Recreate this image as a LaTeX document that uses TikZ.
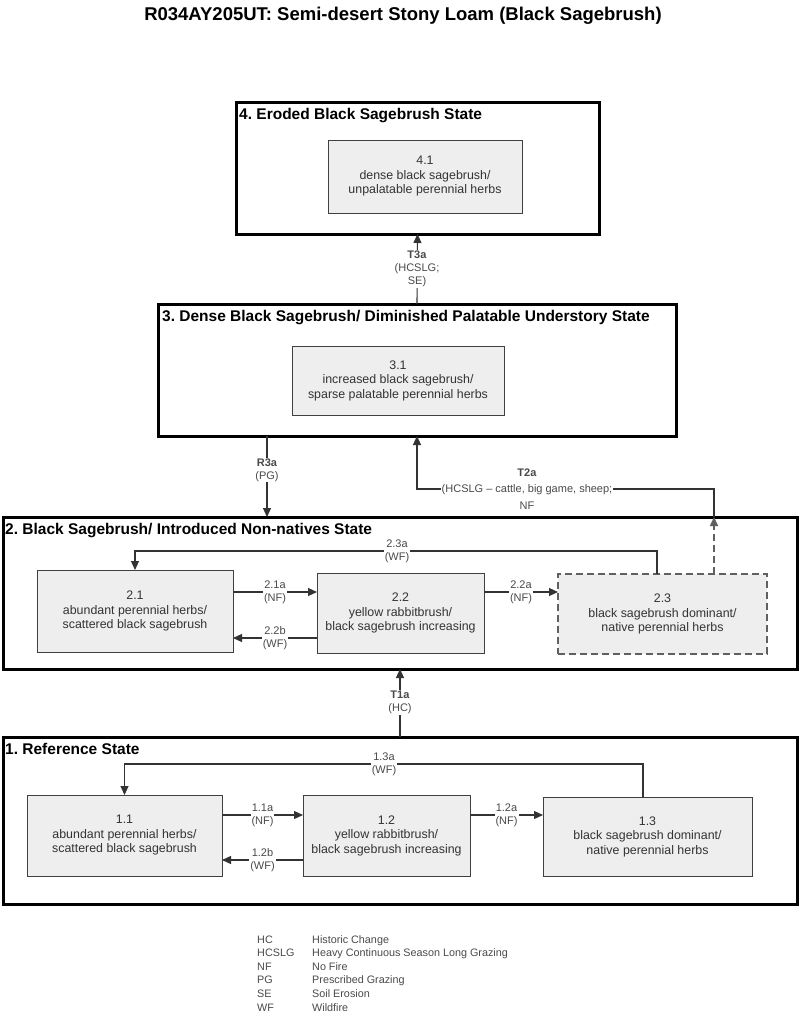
\documentclass[tikz,border=0pt]{standalone}
\usepackage{fontspec}
\setmainfont{Liberation Sans}
\usetikzlibrary{arrows.meta}
\definecolor{boxfill}{HTML}{EEEEEE}
\definecolor{boxline}{HTML}{404040}
\definecolor{txt}{HTML}{333333}
\definecolor{lbltxt}{HTML}{4A4A4A}
\definecolor{conncol}{HTML}{333333}
\definecolor{dashcol}{HTML}{606060}
\frenchspacing
\begin{document}
\begin{tikzpicture}[x=1pt,y=-1pt,
  statebox/.style={draw=black,line width=3pt,inner sep=0pt,outer sep=0pt},
  phasebox/.style={draw=boxline,line width=1pt,fill=boxfill,inner sep=0pt,outer sep=0pt,align=center,text=txt,font=\fontsize{12.4}{14.5}\selectfont},
  dashbox/.style={phasebox,draw=dashcol,line width=1.6pt,dash pattern=on 7pt off 4pt},
  statetitle/.style={anchor=base west,inner sep=0pt,font=\bfseries\fontsize{15.5}{18}\selectfont},
  conn/.style={draw=conncol,line width=1.1pt,-{Triangle[length=9pt,width=8pt]}},
  dashconn/.style={draw=dashcol,line width=1.6pt,dash pattern=on 7pt off 4pt,-{Triangle[length=9pt,width=8pt]}},
  lbl/.style={fill=white,inner sep=1pt,align=center,text=lbltxt,font=\fontsize{11}{13}\selectfont},
  legendtext/.style={anchor=base west,inner sep=0pt,text=lbltxt,font=\fontsize{10.8}{13.6}\selectfont}]
\fill[white] (0,0) rectangle (800,1012);
\useasboundingbox (0,0) rectangle (800,1012);

% title
\node[anchor=base,inner sep=0pt,font=\bfseries\fontsize{18.5}{22}\selectfont] (title) at (403,20) {R034AY205UT: Semi-desert Stony Loam (Black Sagebrush)};

% state boxes
\node[statebox,minimum width=363pt,minimum height=132pt] (s4) at (417.5,168) {};
\node[statebox,minimum width=518pt,minimum height=132pt] (s3) at (417,370) {};
\node[statebox,minimum width=794pt,minimum height=152pt] (s2) at (400,593) {};
\node[statebox,minimum width=794pt,minimum height=167pt] (s1) at (400,820.5) {};

\node[statetitle] (s4t) at (239,119) {4. Eroded Black Sagebrush State};
\node[statetitle] (s3t) at (162,321) {3. Dense Black Sagebrush/ Diminished Palatable Understory State};
\node[statetitle] (s2t) at (5,534) {2. Black Sagebrush/ Introduced Non-natives State};
\node[statetitle] (s1t) at (5,754) {1. Reference State};

% community phase boxes
\node[phasebox,minimum width=194pt,minimum height=73pt] (b41) at (425,176.5) {4.1\\dense black sagebrush/\\unpalatable perennial herbs};
\node[phasebox,minimum width=212pt,minimum height=69pt] (b31) at (398,380.5) {3.1\\increased black sagebrush/\\sparse palatable perennial herbs};
\node[phasebox,minimum width=196pt,minimum height=82pt] (b21) at (135,611) {2.1\\abundant perennial herbs/\\scattered black sagebrush};
\node[phasebox,minimum width=167pt,minimum height=80pt] (b22) at (400.5,613) {2.2\\yellow rabbitbrush/\\black sagebrush increasing};
\node[dashbox,minimum width=209pt,minimum height=80pt] (b23) at (662.5,614) {2.3\\black sagebrush dominant/\\native perennial herbs};
\node[phasebox,minimum width=195pt,minimum height=81pt] (b11) at (124.5,835.5) {1.1\\abundant perennial herbs/\\scattered black sagebrush};
\node[phasebox,minimum width=167pt,minimum height=81pt] (b12) at (386.5,835.5) {1.2\\yellow rabbitbrush/\\black sagebrush increasing};
\node[phasebox,minimum width=209pt,minimum height=79pt] (b13) at (647.5,836.5) {1.3\\black sagebrush dominant/\\native perennial herbs};

% helper coordinates
\coordinate (cr3a) at (267,470);
\coordinate (ct2b) at (714,517);
\coordinate (ct2c) at (417,489);
\coordinate (c23a) at (657,551);
\coordinate (c13a) at (643,764);
\coordinate (y2a) at (0,592);
\coordinate (y2b) at (0,638);
\coordinate (y1a) at (0,815);
\coordinate (y1b) at (0,860);

% transitions between states
\draw[conn] (s3.north) -- (s4.south);
\node[lbl] (lt3a) at (417,269) {\textbf{T3a}\\(HCSLG;\\SE)};

\draw[conn] (s3.south -| cr3a) -- (s2.north -| cr3a);
\node[lbl] (lr3a) at (cr3a) {\textbf{R3a}\\(PG)};

\draw[dashconn] (b23.north -| ct2b) -- (ct2b);
\draw[conn] (ct2b) |- (ct2c) -- (s3.south -| ct2c);
\node[lbl,font=\fontsize{11}{16.5}\selectfont] (lt2a) at (527,489) {\textbf{T2a}\\(HCSLG – cattle, big game, sheep;\\NF};

\draw[conn] (s1.north) -- (s2.south);
\node[lbl] (lt1a) at (400,702.5) {\textbf{T1a}\\(HC)};

% state 2 pathways
\draw[conn] (b23.north -| c23a) -- (c23a) -| (b21.north);
\node[lbl] (l23a) at (397,551) {2.3a\\(WF)};
\draw[conn] (b21.east |- y2a) -- (b22.west |- y2a) node[lbl,midway] (l21a) {2.1a\\(NF)};
\draw[conn] (b22.west |- y2b) -- (b21.east |- y2b) node[lbl,midway] (l22b) {2.2b\\(WF)};
\draw[conn] (b22.east |- y2a) -- (b23.west |- y2a) node[lbl,midway] (l22a) {2.2a\\(NF)};

% state 1 pathways
\draw[conn] (b13.north -| c13a) -- (c13a) -| (b11.north);
\node[lbl] (l13a) at (384,764) {1.3a\\(WF)};
\draw[conn] (b11.east |- y1a) -- (b12.west |- y1a) node[lbl,midway] (l11a) {1.1a\\(NF)};
\draw[conn] (b12.west |- y1b) -- (b11.east |- y1b) node[lbl,midway] (l12b) {1.2b\\(WF)};
\draw[conn] (b12.east |- y1a) -- (b13.west |- y1a) node[lbl,midway] (l12a) {1.2a\\(NF)};

% legend
\foreach \ab/\dd [count=\i from 0] in {HC/Historic Change,HCSLG/Heavy Continuous Season Long Grazing,NF/No Fire,PG/Prescribed Grazing,SE/Soil Erosion,WF/Wildfire}{
  \node[legendtext] (la\i) at (257,943+13.6*\i) {\ab};
  \node[legendtext] (ld\i) at (312,943+13.6*\i) {\dd};
}
\end{tikzpicture}
\end{document}
